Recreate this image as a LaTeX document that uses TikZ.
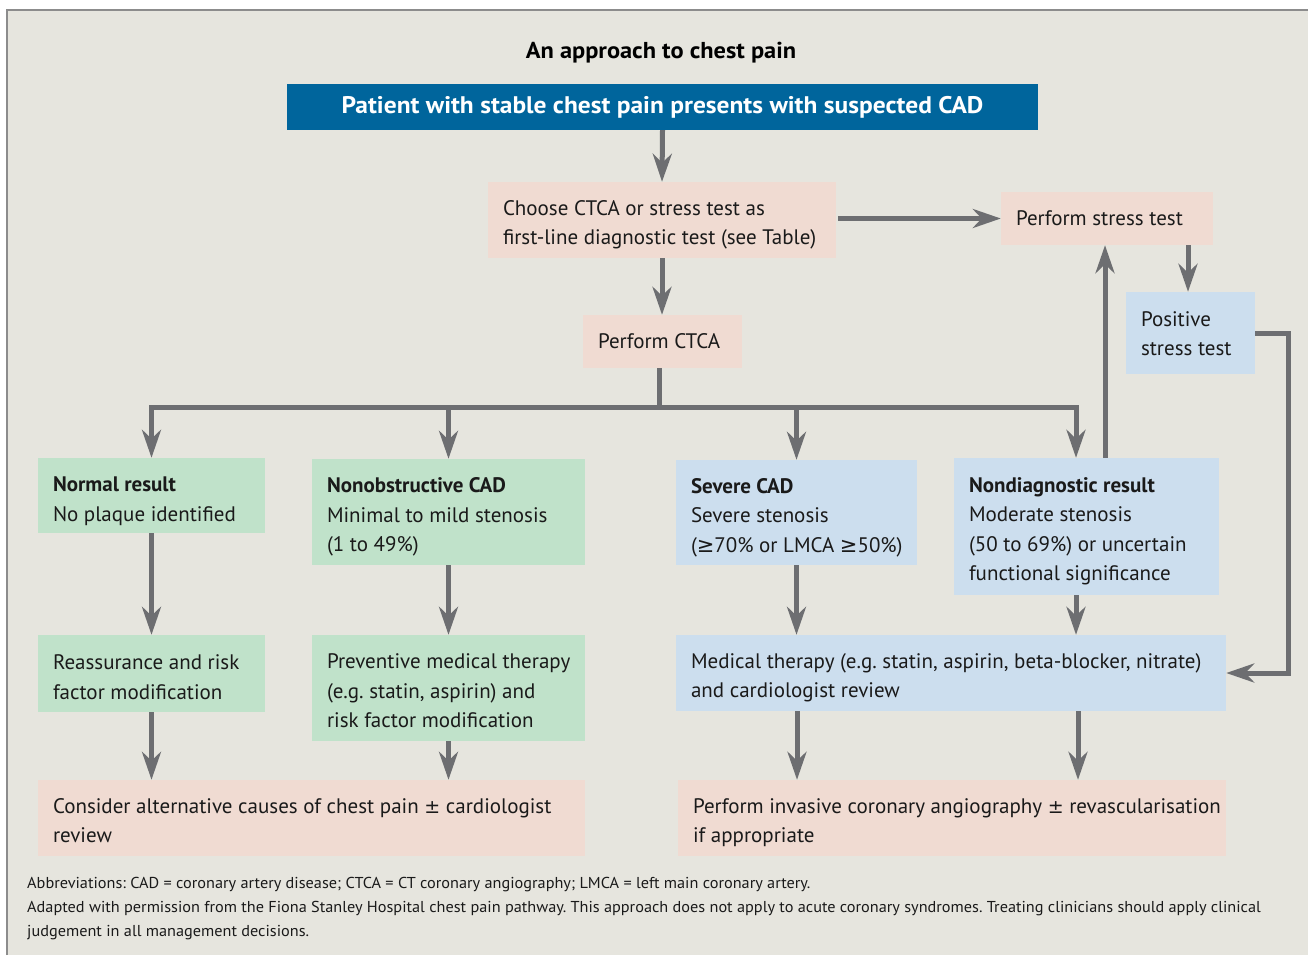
\documentclass[tikz,border=0pt]{standalone}
\usepackage{fontspec}
\setmainfont{PT Sans}
\newfontfamily\hdrfont{PT Sans}[FakeStretch=1.06]
\newfontfamily\footfont{PT Sans}[FakeStretch=1.03]
\newfontfamily\symf{DejaVu Sans}
\usetikzlibrary{arrows.meta,calc}
\definecolor{bg}{HTML}{E6E5DE}
\definecolor{frame}{HTML}{8C8C8C}
\definecolor{hdrblue}{HTML}{00659C}
\definecolor{pinkbox}{HTML}{F0DBD2}
\definecolor{greenbox}{HTML}{C0E2CA}
\definecolor{bluebox}{HTML}{CCDEEE}
\definecolor{conn}{HTML}{6D6E71}
\definecolor{txt}{HTML}{1A1A1A}
\newcommand{\gesym}{{\symf ≥}}
\newcommand{\pmsym}{{\symf\fontsize{19}{29.5}\selectfont ±}}
\frenchspacing
\tikzset{
  box/.style={rectangle, inner sep=0pt, anchor=center},
  pinkb/.style={box, fill=pinkbox},
  greenb/.style={box, fill=greenbox},
  blueb/.style={box, fill=bluebox},
  btext/.style={anchor=west, inner sep=0pt, align=left,
    font=\fontsize{21}{29.5}\selectfont\frenchspacing, text=txt,
    execute at begin node=\strut, execute at end node=\strut},
  arr/.style={draw=conn, line width=5pt,
    -{Stealth[length=28pt, width=19pt, inset=9pt]}},
  ln/.style={draw=conn, line width=5pt},
}
\newcommand{\bx}[8]{% style, name, x1, y1, x2, y2, text-drop, text
  \node[#1, minimum width=#5-#3, minimum height=#6-#4]
    (#2) at ({(#3+#5)/2},{(#4+#6)/2}) {};
  \node[btext] (#2-t) at ([xshift=15pt, yshift=-#7pt]#2.west) {#8};}
\begin{document}
\begin{tikzpicture}[x=1pt,y=-1pt]
\useasboundingbox (0,0) rectangle (1308,955);
\fill[white] (0,0) rectangle (1308,955);
\fill[bg] (7,10) rectangle (1308,955);
\draw[frame, line width=2pt] (7,955) -- (7,10) -- (1308,10);

\node[font=\hdrfont\fontsize{23}{26}\selectfont\bfseries, text=black] (title) at (661,53) {An approach to chest pain};

\node[fill=hdrblue, minimum width=751, minimum height=46, inner sep=0pt,
  font=\hdrfont\fontsize{24}{26}\selectfont\bfseries, text=white] (hdr) at (662.5,107)
  {\raisebox{-3.5pt}{Patient with stable chest pain presents with suspected CAD}};

\bx{pinkb}{choose}{488}{182}{836}{258}{7}{Choose CTCA or stress test as\\first-line diagnostic test (see Table)}
\bx{pinkb}{stress}{1001}{192}{1213}{245}{1}{Perform stress test}
\bx{blueb}{pos}{1126}{292}{1255}{374}{5}{Positive\\stress test}
\bx{pinkb}{ctca}{583}{315}{742}{368}{1}{Perform CTCA}

\bx{greenb}{normal}{38}{458}{265}{533}{8}{\textbf{Normal result}\\No plaque identified}
\bx{greenb}{nonob}{312}{459}{585}{565}{7}{\textbf{Nonobstructive CAD}\\Minimal to mild stenosis\\(1 to 49\%)}
\bx{blueb}{severe}{676}{460}{917}{565}{7}{\textbf{Severe CAD}\\Severe stenosis\\(\gesym70\% or LMCA \gesym50\%)}
\bx{blueb}{nondiag}{954}{458}{1219}{595}{7}{\textbf{Nondiagnostic result}\\Moderate stenosis\\(50 to 69\%) or uncertain\\functional significance}

\bx{greenb}{reass}{38}{635}{265}{712}{8}{Reassurance and risk\\factor modification}
\bx{greenb}{prev}{312}{635}{585}{741}{7}{Preventive medical therapy\\(e.g. statin, aspirin) and\\risk factor modification}
\bx{blueb}{med}{676}{635}{1226}{711}{7}{Medical therapy (e.g. statin, aspirin, beta-blocker, nitrate)\\and cardiologist review}

\bx{pinkb}{consider}{38}{780}{585}{856}{7}{Consider alternative causes of chest pain \pmsym{} cardiologist\\review}
\bx{pinkb}{inv}{678}{780}{1226}{856}{7}{Perform invasive coronary angiography \pmsym{} revascularisation\\if appropriate}

\node[anchor=north west, align=left, inner sep=0pt, text=txt,
  font=\footfont\fontsize{15.8}{24}\selectfont] (foot) at (27,877)
  {Abbreviations: CAD = coronary artery disease; CTCA = CT coronary angiography; LMCA = left main coronary artery.\\
   Adapted with permission from the Fiona Stanley Hospital chest pain pathway. This approach does not apply to acute coronary syndromes. Treating clinicians should apply clinical\\
   judgement in all management decisions.};

% helper coordinates
\coordinate (bus) at (659,407);
\coordinate (xnd) at (1076,0);
\coordinate (xup) at (1105,0);
\coordinate (xsd) at (1188,0);
\coordinate (xrt) at (1288,0);
\coordinate (xma) at (797,0);
\coordinate (xmb) at (1078,0);
\coordinate (xct) at (659,0);

% connectors
\draw[arr] (hdr.south) -- (choose.north);
\draw[arr] (choose.south) -- (choose.south |- ctca.north);
\draw[arr] ([xshift=2pt]choose.east |- stress.west) -- (stress.west);
\draw[arr] (stress.south -| xsd) -- (pos.north -| xsd);
\draw[arr] (pos.east) -- (pos.east -| xrt) |- (med.east);

\draw[ln] (ctca.south -| xct) -- (bus);
\draw[arr] (bus) -| (normal.north);
\draw[arr] (bus) -| (nonob.north);
\draw[arr] (bus) -| (severe.north);
\draw[arr] (bus) -| (nondiag.north -| xnd);
\draw[arr] (nondiag.north -| xup) -- (stress.south -| xup);

\draw[arr] (normal.south) -- (reass.north);
\draw[arr] (nonob.south) -- (prev.north);
\draw[arr] (severe.south) -- (severe.south |- med.north);
\draw[arr] (nondiag.south -| xnd) -- (med.north -| xnd);

\draw[arr] (reass.south) -- (reass.south |- consider.north);
\draw[arr] (prev.south) -- (prev.south |- consider.north);
\draw[arr] (med.south -| xma) -- (inv.north -| xma);
\draw[arr] (med.south -| xmb) -- (inv.north -| xmb);
\end{tikzpicture}
\end{document}
